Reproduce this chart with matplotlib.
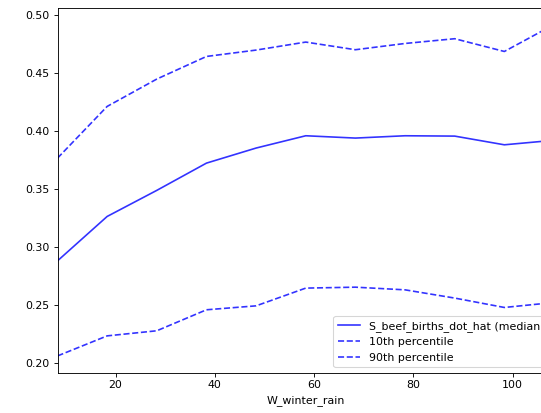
import matplotlib
matplotlib.use("Agg")
import matplotlib.pyplot as plt

# winter rain grid and model outputs
winter_rain = [8.3, 18.3, 28.3, 38.3, 48.3, 58.3, 68.3, 78.3, 88.3, 98.3, 108.3]
median = [0.2877, 0.3260, 0.3485, 0.3720, 0.3850, 0.3956, 0.3936, 0.3956, 0.3953, 0.3878, 0.3917]
p10 = [0.2057, 0.2230, 0.2274, 0.2455, 0.2489, 0.2642, 0.2650, 0.2627, 0.2556, 0.2475, 0.2518]
p90 = [0.3763, 0.4209, 0.4445, 0.4640, 0.4695, 0.4764, 0.4698, 0.4752, 0.4793, 0.4683, 0.4915]

DPI = 79.2
W, H = 541, 413

fig = plt.figure(figsize=(W / DPI, H / DPI), dpi=DPI)
ax = fig.add_axes([57.5 / W, 40.5 / H, (554 - 57.5) / W, (372.5 - 8) / H])

ax.plot(winter_rain, median, color="blue", alpha=0.8, linestyle="-",
        label="S_beef_births_dot_hat (median)")
ax.plot(winter_rain, p10, color="blue", alpha=0.8, linestyle="--",
        label="10th percentile")
ax.plot(winter_rain, p90, color="blue", alpha=0.8, linestyle="--",
        label="90th percentile")

ax.set_xlim(winter_rain[0], winter_rain[-1])
ax.set_xlabel("W_winter_rain")
ax.legend(loc="lower right")

fig.savefig("out.png", dpi=DPI)
